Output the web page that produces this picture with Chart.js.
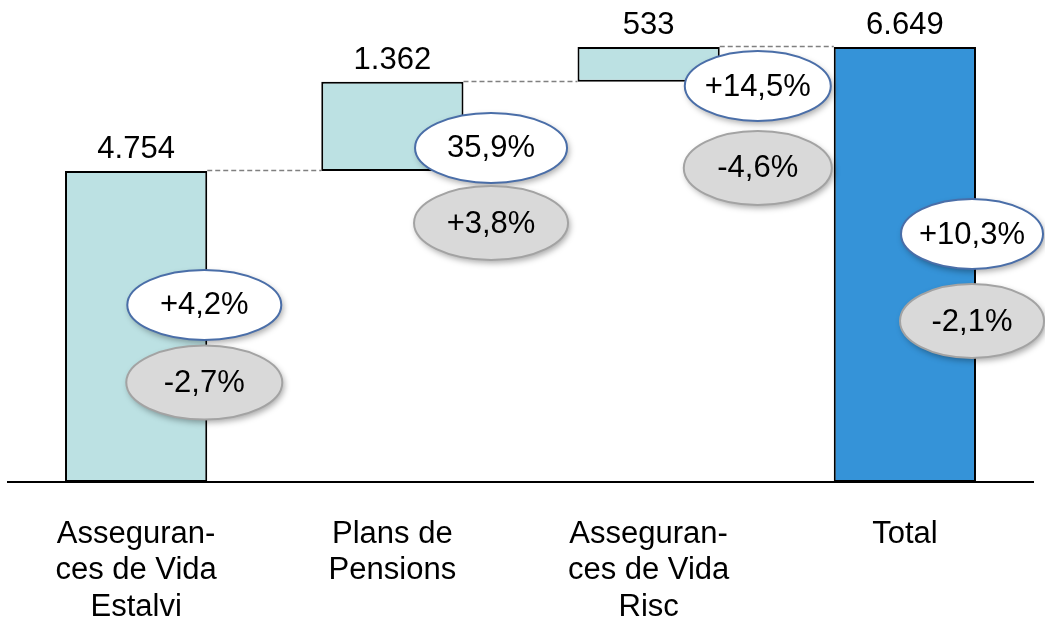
<!DOCTYPE html>
<html>
<head>
<meta charset="utf-8">
<script src="https://cdn.jsdelivr.net/npm/chart.js@4.4.1/dist/chart.umd.min.js"></script>
<style>
  html, body { margin: 0; padding: 0; background: #ffffff; }
  #wrap { width: 1045px; height: 621px; }
</style>
</head>
<body>
<div id="wrap"><canvas id="c" width="1045" height="621"></canvas></div>
<script>
// ---- data ----
const categories = [
  ['Asseguran-', 'ces de Vida', 'Estalvi'],
  ['Plans de', 'Pensions'],
  ['Asseguran-', 'ces de Vida', 'Risc'],
  ['Total']
];
const increments = [4754, 1362, 533];          // waterfall steps
const totalValue = 6649;                        // final total
const valueLabels = ['4.754', '1.362', '533', '6.649'];
const upperBadges = ['+4,2%', '35,9%', '+14,5%', '+10,3%'];   // white ellipses
const lowerBadges = ['-2,7%', '+3,8%', '-4,6%', '-2,1%'];     // grey ellipses

// floating bar ranges built from the steps
const ranges = [];
let run = 0;
increments.forEach(v => { ranges.push([run, run + v]); run += v; });
ranges.push([0, totalValue]);

// ---- layout of the badges (category-index offset, y in value units) ----
const badgeLayout = [
  { dx: 0.266, upY: 2706, loY: 1521, rx: 77 },
  { dx: 0.385, upY: 5106, loY: 3959, rx: 76 },
  { dx: 0.426, upY: 6053, loY: 4800, rx: 73 },
  { dx: 0.262, upY: 3791, loY: 2461, rx: 71 }
];

const FONT = '"Liberation Sans", Arial, Helvetica, sans-serif';

const overlay = {
  id: 'overlay',
  afterDatasetsDraw(chart) {
    const ctx = chart.ctx;
    const meta = chart.getDatasetMeta(0);
    const xs = chart.scales.x, ys = chart.scales.y;

    // dashed connectors
    ctx.save();
    ctx.strokeStyle = '#808080';
    ctx.lineWidth = 1.6;
    ctx.setLineDash([5, 3]);
    for (let i = 0; i < meta.data.length - 1; i++) {
      const a = meta.data[i], b = meta.data[i + 1];
      const y = Math.round(ys.getPixelForValue(ranges[i][1])) - 0.5;
      ctx.beginPath();
      ctx.moveTo(a.x + a.width / 2, y);
      ctx.lineTo(b.x - b.width / 2, y);
      ctx.stroke();
    }
    ctx.restore();

    // ellipses
    const drawBadge = (cx, cy, rx, ry, fill, stroke, text) => {
      ctx.save();
      ctx.shadowColor = 'rgba(0,0,0,0.35)';
      ctx.shadowBlur = 6;
      ctx.shadowOffsetX = 2;
      ctx.shadowOffsetY = 3;
      ctx.beginPath();
      ctx.ellipse(cx, cy, rx, ry, 0, 0, Math.PI * 2);
      ctx.fillStyle = fill;
      ctx.fill();
      ctx.restore();
      ctx.save();
      ctx.beginPath();
      ctx.ellipse(cx, cy, rx, ry, 0, 0, Math.PI * 2);
      ctx.lineWidth = 2;
      ctx.strokeStyle = stroke;
      ctx.stroke();
      ctx.fillStyle = '#000000';
      ctx.font = '31px ' + FONT;
      ctx.textAlign = 'center';
      ctx.textBaseline = 'middle';
      ctx.fillText(text, cx, cy + 1);
      ctx.restore();
    };
    badgeLayout.forEach((b, i) => {
      const cx = xs.getPixelForValue(i + b.dx);
      drawBadge(cx, ys.getPixelForValue(b.upY), b.rx, 35, '#ffffff', '#4a6ea8', upperBadges[i]);
      drawBadge(cx, ys.getPixelForValue(b.loY), b.rx + 1, 37, '#d9d9d9', '#a3a3a3', lowerBadges[i]);
    });

    // value labels above bars
    ctx.save();
    ctx.fillStyle = '#000000';
    ctx.font = '31px ' + FONT;
    ctx.textAlign = 'center';
    ctx.textBaseline = 'alphabetic';
    meta.data.forEach((bar, i) => {
      const top = ys.getPixelForValue(ranges[i][1]);
      ctx.fillText(valueLabels[i], bar.x, top - 13);
    });
    ctx.restore();
  }
};

new Chart(document.getElementById('c'), {
  type: 'bar',
  data: {
    labels: categories,
    datasets: [{
      data: ranges,
      backgroundColor: ['#bce1e3', '#bce1e3', '#bce1e3', '#3593d8'],
      borderColor: '#000000',
      borderWidth: 2,
      borderSkipped: false,
      barPercentage: 0.555,
      categoryPercentage: 1.0
    }]
  },
  options: {
    responsive: false,
    animation: false,
    layout: { padding: { top: 24, left: 8, right: 12, bottom: 0 } },
    plugins: { legend: { display: false }, tooltip: { enabled: false } },
    scales: {
      x: {
        grid: { display: false, drawTicks: false },
        border: { display: true, color: '#000000', width: 2 },
        ticks: {
          color: '#000000',
          font: { family: FONT, size: 31, lineHeight: 1.18 },
          padding: 34,
          maxRotation: 0,
          autoSkip: false
        },
        afterFit(scale) { scale.height = 139; }
      },
      y: {
        display: false,
        min: 0,
        max: 7000
      }
    }
  },
  plugins: [overlay]
});
</script>
</body>
</html>
